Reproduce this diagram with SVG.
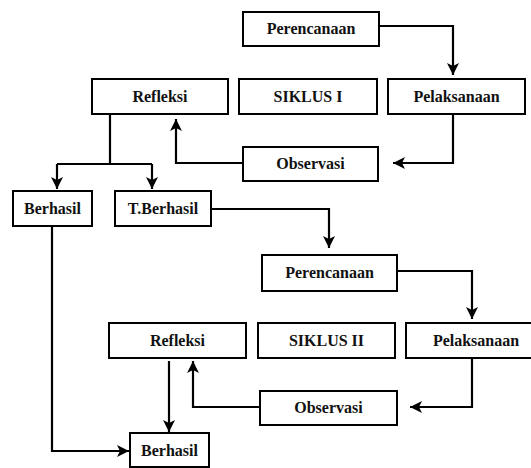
<svg xmlns="http://www.w3.org/2000/svg" width="531" height="468" viewBox="0 0 531 468">
<style>
.box{fill:#fff;stroke:#000;stroke-width:2}
text{font-family:'Liberation Serif','Times New Roman','DejaVu Serif',serif;font-size:16px;font-weight:bold;fill:#111;text-anchor:middle}
.con{fill:none;stroke:#000;stroke-width:2.2;marker-end:url(#ah)}
.ln{fill:none;stroke:#000;stroke-width:2.2}
</style>
<defs>
<marker id="ah" markerUnits="userSpaceOnUse" markerWidth="14" markerHeight="14" viewBox="0 0 14 14" refX="12" refY="7" orient="auto">
<path d="M0,1 L12,7 L0,13 L3,7 Z" fill="#000"/>
</marker>
</defs>
<rect width="531" height="468" fill="#fff"/>
<g id="connectors">
<path class="con" d="M379,26 H453 V75"/>
<path class="con" d="M453,114 V163 H393"/>
<path class="con" d="M243,163 H176 V119"/>
<path class="ln" d="M110,114 V164 M57,164 H152"/>
<path class="con" d="M57,164 V189"/>
<path class="con" d="M152,164 V189"/>
<path class="con" d="M211,209 H329 V248"/>
<path class="con" d="M52,226 V451 H129"/>
<path class="con" d="M397,271 H472 V319"/>
<path class="con" d="M472,358 V407 H410"/>
<path class="con" d="M260,407 H193 V361"/>
<path class="con" d="M169,361 V432"/>
</g>
<g id="perencanaan1"><rect class="box" x="243" y="12" width="136" height="34"/><text x="311" y="34">Perencanaan</text></g>
<g id="refleksi1"><rect class="box" x="92" y="79" width="136" height="35"/><text x="160" y="102">Refleksi</text></g>
<g id="siklus1"><rect class="box" x="239" y="79" width="138" height="35"/><text x="308" y="102">SIKLUS I</text></g>
<g id="pelaksanaan1"><rect class="box" x="388" y="79" width="137" height="35"/><text x="456.5" y="102">Pelaksanaan</text></g>
<g id="observasi1"><rect class="box" x="243" y="147" width="135" height="34"/><text x="310.5" y="169">Observasi</text></g>
<g id="berhasil1"><rect class="box" x="13" y="191" width="79" height="35"/><text x="52.5" y="214">Berhasil</text></g>
<g id="tberhasil"><rect class="box" x="115" y="191" width="96" height="35"/><text x="163" y="214">T.Berhasil</text></g>
<g id="perencanaan2"><rect class="box" x="262" y="255" width="135" height="36"/><text x="329.5" y="278">Perencanaan</text></g>
<g id="refleksi2"><rect class="box" x="109" y="323" width="137" height="35"/><text x="177.5" y="346">Refleksi</text></g>
<g id="siklus2"><rect class="box" x="258" y="323" width="137" height="35"/><text x="326.5" y="346">SIKLUS II</text></g>
<g id="pelaksanaan2"><rect class="box" x="406" y="323" width="140" height="35"/><text x="476" y="346">Pelaksanaan</text></g>
<g id="observasi2"><rect class="box" x="260" y="391" width="137" height="34"/><text x="328.5" y="413">Observasi</text></g>
<g id="berhasil2"><rect class="box" x="130" y="433" width="79" height="34"/><text x="169.5" y="456">Berhasil</text></g>
</svg>
